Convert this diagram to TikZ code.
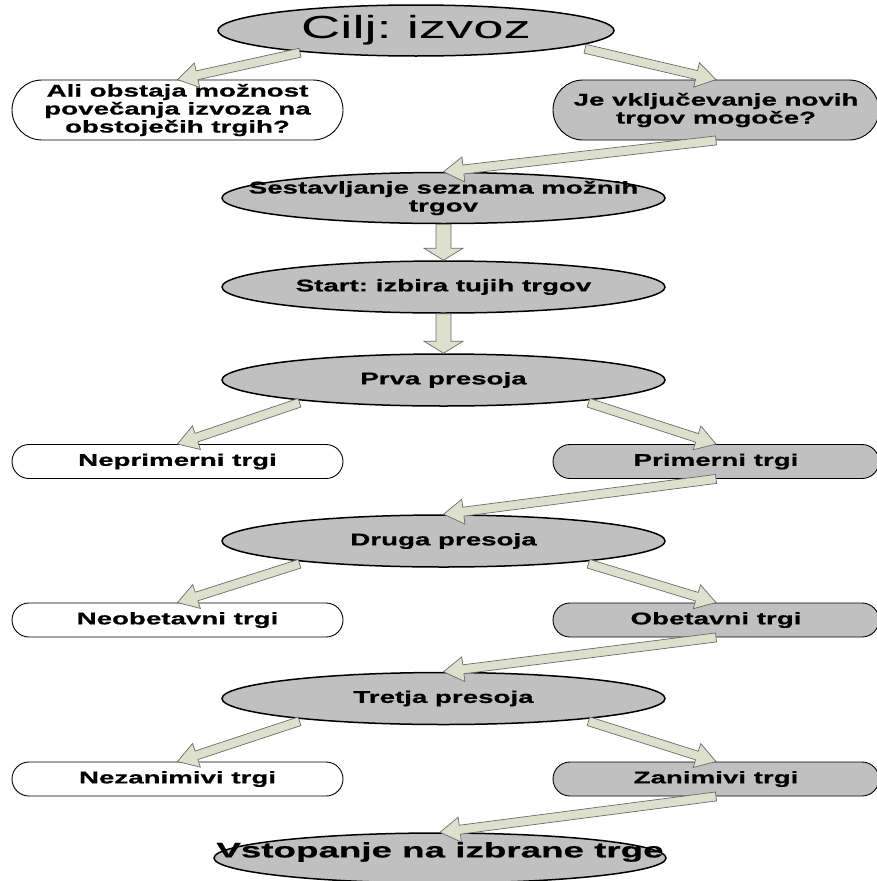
\documentclass[tikz,border=0pt]{standalone}
\usepackage{fontspec}
\newfontfamily\boxfont[FakeStretch=1.63, BoldFeatures={FakeBold=0.6}]{Liberation Sans}
\newfontfamily\titlefont[FakeStretch=1.7]{Liberation Sans}
\newfontfamily\endfont[FakeStretch=1.75, BoldFeatures={FakeBold=0.6}]{Liberation Sans}
\usetikzlibrary{shapes.geometric, shapes.misc, calc}
\frenchspacing

\definecolor{ovalgray}{HTML}{C0C0C0}
\definecolor{arrowfill}{HTML}{DDE0CC}
\definecolor{arrowline}{HTML}{6A6A6A}

\tikzset{
  oval/.style={draw, ellipse, fill=ovalgray, line width=1.5pt, inner sep=0pt,
    minimum width=443pt, minimum height=52pt},
  ovaltext/.style={align=center, inner sep=0pt, font=\boxfont\bfseries\fontsize{17pt}{18pt}\selectfont},
  pill/.style={draw, rounded rectangle, line width=0.9pt, inner sep=0pt, align=center,
    minimum height=34pt, font=\boxfont\bfseries\fontsize{17pt}{18pt}\selectfont},
  rejected/.style={pill, fill=white, minimum width=331pt},
  accepted/.style={pill, fill=ovalgray, minimum width=326pt},
  fatarrow/.style={draw=arrowline, fill=arrowfill, line width=0.7pt, line join=miter,
    to path={
      ($(\tikztostart)!\shaft!90:(\tikztotarget)$)
      -- ($($(\tikztotarget)!\tiplen!(\tikztostart)$)!\shaft!90:(\tikztotarget)$)
      -- ($($(\tikztotarget)!\tiplen!(\tikztostart)$)!\barb!90:(\tikztotarget)$)
      -- (\tikztotarget)
      -- ($($(\tikztotarget)!\tiplen!(\tikztostart)$)!\barb!-90:(\tikztotarget)$)
      -- ($($(\tikztotarget)!\tiplen!(\tikztostart)$)!\shaft!-90:(\tikztotarget)$)
      -- ($(\tikztostart)!\shaft!-90:(\tikztotarget)$) -- cycle}},
  slim/.style={fatarrow, /utils/exec={\def\shaft{4.5pt}\def\barb{12.5pt}\def\tiplen{20pt}}},
  stout/.style={fatarrow, /utils/exec={\def\shaft{7.5pt}\def\barb{19.5pt}\def\tiplen{12pt}}},
}

\begin{document}
\begin{tikzpicture}[x=1pt, y=1pt]
  \useasboundingbox (0,0) rectangle (877,-881);
  \draw
    (416, -30.5) node[oval, minimum width=396pt, minimum height=51pt,
      label={[inner sep=0pt, font=\titlefont\fontsize{32pt}{36pt}\selectfont]center:{Cilj: izvoz}}](goal){}
    (177.5, -110) node[rejected, minimum height=60pt](ask){Ali obstaja možnost\\povečanja izvoza na\\obstoječih trgih?}
    (716, -110) node[accepted, minimum height=60pt](new){Je vključevanje novih\\trgov mogoče?}
    (443.5, -198) node[oval, minimum height=51pt,
      label={[ovaltext]center:{Sestavljanje seznama možnih\\trgov}}](list){}
    (443.5, -287) node[oval, label={[ovaltext]center:{Start: izbira tujih trgov}}](start){}
    (443.5, -380) node[oval, label={[ovaltext]center:{Prva presoja}}](first){}
    (177.5, -461.5) node[rejected](unfit){Neprimerni trgi}
    (716, -461.5) node[accepted](fit){Primerni trgi}
    (443.5, -541) node[oval, label={[ovaltext]center:{Druga presoja}}](second){}
    (177.5, -620) node[rejected](hopeless){Neobetavni trgi}
    (716, -620) node[accepted](promising){Obetavni trgi}
    (443.5, -698.5) node[oval, label={[ovaltext]center:{Tretja presoja}}](third){}
    (177.5, -779) node[rejected](dull){Nezanimivi trgi}
    (716, -779) node[accepted](keen){Zanimivi trgi}
    (440, -858) node[oval, minimum width=452pt, minimum height=50pt,
      label={[inner sep=0pt, yshift=6pt, font=\endfont\bfseries\fontsize{21pt}{24pt}\selectfont]center:{Vstopanje na izbrane trge}}](entry){}
  ;
  \draw[slim] ([shift={(-116,4)}]goal.south) to (ask.north);
  \draw[slim] ([shift={(169,8)}]goal.south) to (new.north);
  \draw[slim] (new.south) to (list.north);
  \draw[stout] (list.south) to (start.north);
  \draw[stout] (start.south) to (first.north);
  \draw[slim] ([shift={(-144,4)}]first.south) to (unfit.north);
  \draw[slim] ([shift={(145,4)}]first.south) to (fit.north);
  \draw[slim] (fit.south) to (second.north);
  \draw[slim] ([shift={(-144,4)}]second.south) to (hopeless.north);
  \draw[slim] ([shift={(145,4)}]second.south) to (promising.north);
  \draw[slim] (promising.south) to (third.north);
  \draw[slim] ([shift={(-144,4)}]third.south) to (dull.north);
  \draw[slim] ([shift={(145,4)}]third.south) to (keen.north);
  \draw[slim] (keen.south) to (entry.north);
\end{tikzpicture}
\end{document}
